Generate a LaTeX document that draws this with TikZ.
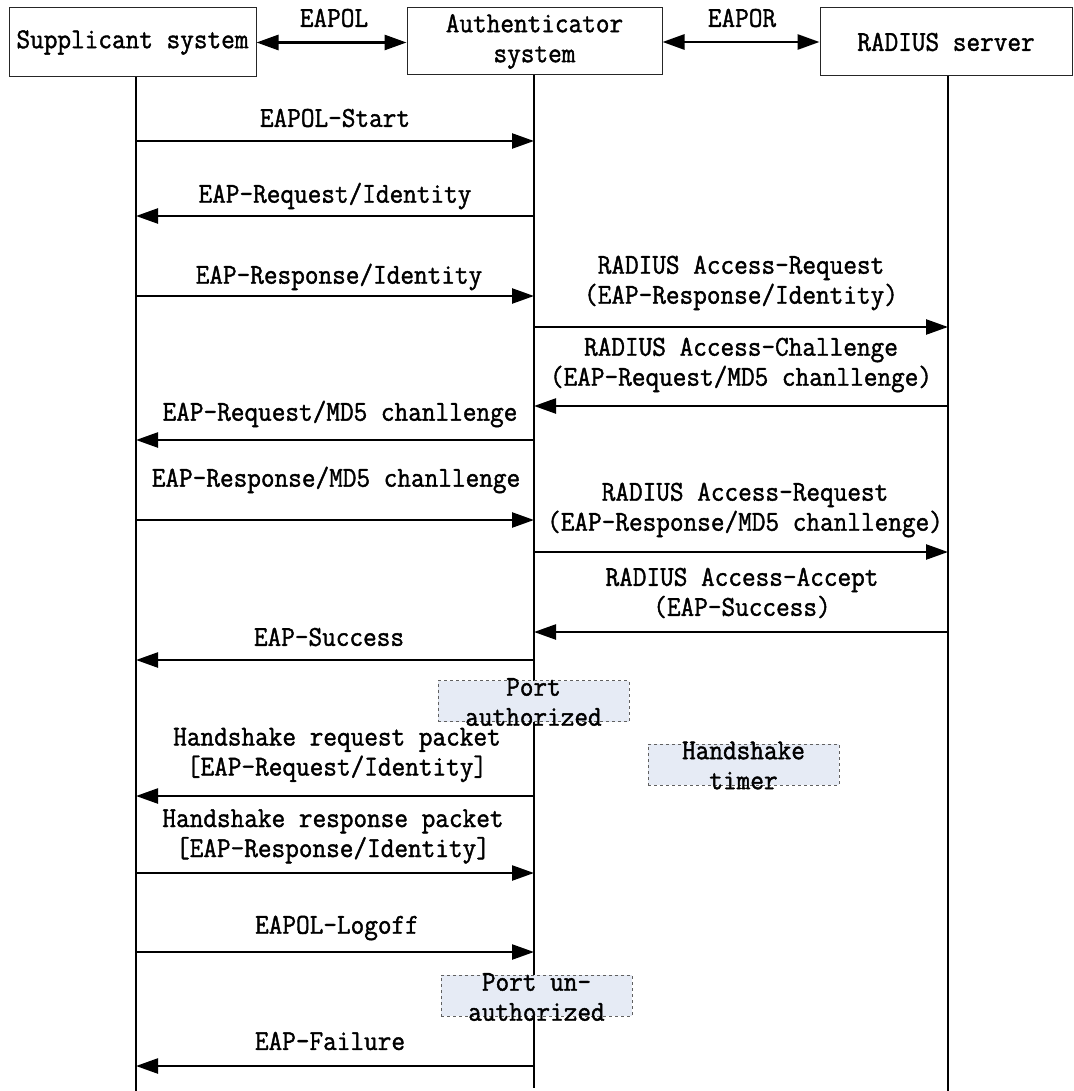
\documentclass[tikz,border=0pt]{standalone}
\usepackage{fontspec}
\setmainfont{Latin Modern Mono}[FakeStretch=0.92, FakeBold=1.4]
\usetikzlibrary{arrows.meta}
\definecolor{notefill}{HTML}{E6EBF5}
\definecolor{notedraw}{HTML}{606060}
\begin{document}
\begin{tikzpicture}[x=1pt,y=-1pt,
  every node/.style={font=\fontsize{28.8pt}{30pt}\selectfont, inner sep=0pt},
  entity/.style={draw=black!85, line width=1pt, minimum height=68pt, align=center},
  lifeline/.style={line width=2.4pt},
  msg/.style={line width=2.4pt, -{Triangle[length=22pt,width=15pt]}},
  dblmsg/.style={line width=2.8pt, {Triangle[length=22pt,width=15pt]}-{Triangle[length=22pt,width=15pt]}},
  note/.style={draw=notedraw, dashed, line width=0.8pt, fill=notefill, minimum width=191pt, minimum height=41pt},
  lbl/.style={align=center}
]
\useasboundingbox (0,0) rectangle (1073,1091);

% participants
\node[entity, minimum width=247pt, minimum height=69pt] (sup) at (132.5,42.5) {Supplicant system};
\node[entity, minimum width=255pt, minimum height=67pt] (auth) at (534.5,41.5) {Authenticator\\system};
\node[entity, minimum width=252pt, minimum height=68pt] (rad) at (946,42) {RADIUS server};

% links between participants
\draw[dblmsg] (sup.east) -- (sup.east -| auth.west);
\node (eapol) at (334,18) {EAPOL};
\draw[dblmsg] (auth.east |- rad.west) -- (rad.west);
\node (eapor) at (742,18) {EAPOR};

% lifelines
\coordinate (S) at (136,77);
\coordinate (A) at (534,75);
\coordinate (R) at (948,76);
\coordinate (Sb) at (136,1091);
\coordinate (Ab) at (534,1088);
\coordinate (Rb) at (948,1091);
\draw[lifeline] (S) -- (Sb);
\draw[lifeline] (A) -- (Ab);
\draw[lifeline] (R) -- (Rb);

% authentication exchange
\draw[msg] (S |- 0,141) -- (A |- 0,141);
\node[lbl] (m1) at (335,118) {EAPOL-Start};

\draw[msg] (A |- 0,216) -- (S |- 0,216);
\node[lbl] (m2) at (335,196) {EAP-Request/Identity};

\draw[msg] (S |- 0,296) -- (A |- 0,296);
\node[lbl] (m3) at (339,277) {EAP-Response/Identity};

\draw[msg] (A |- 0,327) -- (R |- 0,327);
\node[lbl] (m4) at (741,283) {RADIUS Access-Request\\(EAP-Response/Identity)};

\draw[msg] (R |- 0,406) -- (A |- 0,406);
\node[lbl] (m5) at (741,365) {RADIUS Access-Challenge\\(EAP-Request/MD5 chanllenge)};

\draw[msg] (A |- 0,440) -- (S |- 0,440);
\node[lbl] (m6) at (340,414) {EAP-Request/MD5 chanllenge};

\draw[msg] (S |- 0,520) -- (A |- 0,520);
\node[lbl] (m7) at (336,480) {EAP-Response/MD5 chanllenge};

\draw[msg] (A |- 0,552) -- (R |- 0,552);
\node[lbl] (m8) at (745,510) {RADIUS Access-Request\\(EAP-Response/MD5 chanllenge)};

\draw[msg] (R |- 0,632) -- (A |- 0,632);
\node[lbl] (m9) at (742,593) {RADIUS Access-Accept\\(EAP-Success)};

\draw[msg] (A |- 0,660) -- (S |- 0,660);
\node[lbl] (m10) at (329,637) {EAP-Success};

% port authorized state
\node[note] (pa) at (533.5,701) {};
\node[lbl] (patxt) at (533.5,702) {Port\\authorized};

% handshake timer
\node[note] (ht) at (743.5,764.5) {};
\node[lbl] (httxt) at (743.5,765.5) {Handshake\\timer};

% handshake
\draw[msg] (A |- 0,796) -- (S |- 0,796);
\node[lbl] (m11) at (337,755) {Handshake request packet\\{}[EAP-Request/Identity]};

\draw[msg] (S |- 0,873) -- (A |- 0,873);
\node[lbl] (m12) at (333,836.5) {Handshake response packet\\{}[EAP-Response/Identity]};

% logoff
\draw[msg] (S |- 0,952) -- (A |- 0,952);
\node[lbl] (m13) at (337,928) {EAPOL-Logoff};

\node[note] (pu) at (536.5,995.5) {};
\node[lbl] (putxt) at (536.5,997) {Port un-\\authorized};

\draw[msg] (A |- 0,1066) -- (S |- 0,1066);
\node[lbl] (m14) at (330,1041) {EAP-Failure};
\end{tikzpicture}
\end{document}
